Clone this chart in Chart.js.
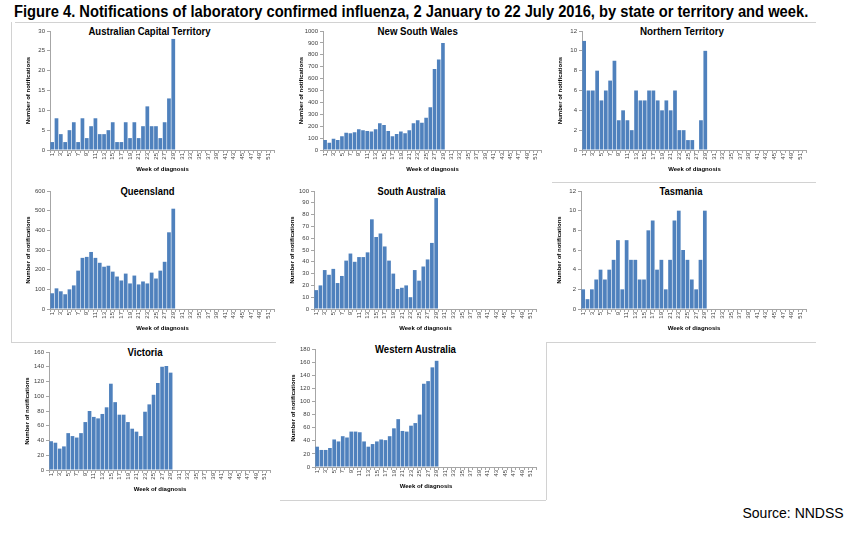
<!DOCTYPE html>
<html><head><meta charset="utf-8">
<script src="https://cdn.jsdelivr.net/npm/chart.js@4"></script>
<style>
body{margin:0;background:#fff;width:853px;height:537px;overflow:hidden;position:relative;font-family:"Liberation Sans",Arial,sans-serif}
canvas{position:absolute}
.t{position:absolute;white-space:nowrap;transform-origin:center center;line-height:1;color:#000}
.ln{position:absolute;background:#d2d2d2}
</style></head><body>
<script>
// ---- data ----
const weekLabels = ['1','2','3','4','5','6','7','8','9','10','11','12','13','14','15','16','17','18','19','20','21','22','23','24','25','26','27','28','29','30','31','32','33','34','35','36','37','38','39','40','41','42','43','44','45','46','47','48','49','50','51','52'];
const actValues = [2,8,4,2,5,7,2,8,3,6,8,4,4,5,7,2,2,7,3,7,3,6,11,6,6,3,7,13,28];
const nswValues = [85,60,95,85,115,145,140,150,175,165,160,155,175,225,210,160,115,135,155,140,165,225,250,230,270,360,680,760,900];
const ntValues  = [11,6,6,8,5,6,7,9,3,4,3,2,6,5,5,6,6,5,4,5,4,6,2,2,1,1,0,3,10];
const qldValues = [80,105,90,75,100,120,195,260,265,290,260,235,215,220,190,165,145,180,130,170,125,140,130,185,155,195,240,390,510];
const saValues  = [16,20,33,29,34,22,28,41,47,40,44,44,48,76,61,64,53,41,30,17,18,20,10,33,24,36,42,56,94];
const tasValues = [2,1,2,3,4,3,4,5,7,2,7,5,5,3,3,8,9,4,5,2,5,9,10,6,5,3,2,5,10];
const vicValues = [39,37,29,32,50,46,44,50,65,80,72,70,76,85,117,92,75,75,65,56,52,46,79,89,102,118,140,141,132];
const waValues  = [31,26,26,29,42,39,47,45,54,54,53,39,31,35,39,42,41,47,59,73,55,54,63,67,80,127,131,152,162];
const yMaxes = {act:30, nsw:1000, nt:12, qld:600, sa:100, tas:12, vic:160, wa:180};
const ySteps = {act:5, nsw:100, nt:2, qld:100, sa:10, tas:2, vic:20, wa:20};
const stateNames = {act:'Australian Capital Territory', nsw:'New South Wales', nt:'Northern Territory', qld:'Queensland', sa:'South Australia', tas:'Tasmania', vic:'Victoria', wa:'Western Australia'};
const yAxisTitle = 'Number of notifications';
const xAxisTitle = 'Week of diagnosis';
const figTitle = 'Figure 4. Notifications of laboratory confirmed influenza, 2 January to 22 July 2016, by state or territory and week.';
const sourceText = 'Source: NNDSS';

// ---- layout ----
const layout = [
  {k:'act', data:actValues, L:50, R:276, T:31, B:150, tc:149, tw:122},
  {k:'nsw', data:nswValues, L:323, R:543, T:31, B:150, tc:417, tw:80},
  {k:'nt',  data:ntValues,  L:582, R:808, T:31, B:150, tc:682, tw:84},
  {k:'qld', data:qldValues, L:50, R:276, T:191, B:309, tc:147, tw:54},
  {k:'sa',  data:saValues,  L:314, R:538, T:191, B:309, tc:411, tw:68},
  {k:'tas', data:tasValues, L:581, R:808, T:191, B:309, tc:681, tw:43},
  {k:'vic', data:vicValues, L:49, R:272, T:352, B:470, tc:145, tw:35},
  {k:'wa',  data:waValues,  L:315, R:538, T:349, B:467, tc:415, tw:81}
];
const borders = [
  [15,22,801,1],[11,22,1,161],[11,183,1,159],[11,342,265,1],
  [552,182,264,1],[546,342,270,1],[546,342,1,158],[280,500,266,1]
];

function placeText(text, cx, cy, targetW, size, bold){
  const d=document.createElement('div'); d.className='t'; d.textContent=text;
  d.style.fontSize=size+'px'; d.style.fontWeight=bold?'bold':'normal';
  document.body.appendChild(d);
  const w=d.offsetWidth, h=d.offsetHeight;
  d.style.left=(cx-w/2)+'px'; d.style.top=(cy-h/2)+'px';
  d.style.transform='scaleX('+(targetW/w)+')';
}
borders.forEach(b=>{const d=document.createElement('div');d.className='ln';d.style.left=b[0]+'px';d.style.top=b[1]+'px';d.style.width=b[2]+'px';d.style.height=b[3]+'px';document.body.appendChild(d);});
placeText(figTitle, 411, 12, 794, 16, true);
placeText(sourceText, 793, 513, 101, 14, false);

Chart.defaults.font.family='"Liberation Sans", Arial, sans-serif';
const yW=28, xH=23, padT=6, padR=4;
layout.forEach(p=>{
  placeText(stateNames[p.k], p.tc, p.T, p.tw, 11, true);
  const c=document.createElement('canvas');
  const left=p.L-yW, top=p.T-padT, w=p.R-left+padR, h=p.B+xH-top;
  c.style.left=left+'px'; c.style.top=top+'px'; c.style.width=w+'px'; c.style.height=h+'px';
  c.width=w; c.height=h;
  document.body.appendChild(c);
  new Chart(c,{
    type:'bar',
    data:{labels:weekLabels, datasets:[{data:p.data, backgroundColor:'#4F81BD', borderWidth:0, barPercentage:0.86, categoryPercentage:1}]},
    options:{
      responsive:false, animation:false, devicePixelRatio:1,
      layout:{padding:{top:padT,right:padR,bottom:0,left:0}},
      plugins:{legend:{display:false}, tooltip:{enabled:false}, title:{display:false}},
      scales:{
        x:{
          afterFit:s=>{s.height=xH;},
          grid:{drawOnChartArea:false, drawTicks:true, tickLength:3, color:'#a6a6a6', offset:true},
          border:{display:true,color:'#a6a6a6'},
          ticks:{autoSkip:false, minRotation:90, maxRotation:90, padding:0, color:'#404040', font:{size:6},
            callback:function(v,i){return i%2===0?weekLabels[i]:'';}},
          title:{display:true, text:xAxisTitle, color:'#000', font:{size:6, weight:'bold'}, padding:{top:0,bottom:0}}
        },
        y:{
          min:0, max:yMaxes[p.k],
          afterFit:s=>{s.width=yW;},
          grid:{drawOnChartArea:false, drawTicks:true, tickLength:3, color:'#a6a6a6'},
          border:{display:true,color:'#a6a6a6'},
          ticks:{stepSize:ySteps[p.k], padding:2, color:'#404040', font:{size:6}, callback:v=>String(v)},
          title:{display:true, text:yAxisTitle, color:'#000', font:{size:6, weight:'bold'}, padding:{top:3,bottom:0}}
        }
      }
    }
  });
});
</script>
</body></html>
